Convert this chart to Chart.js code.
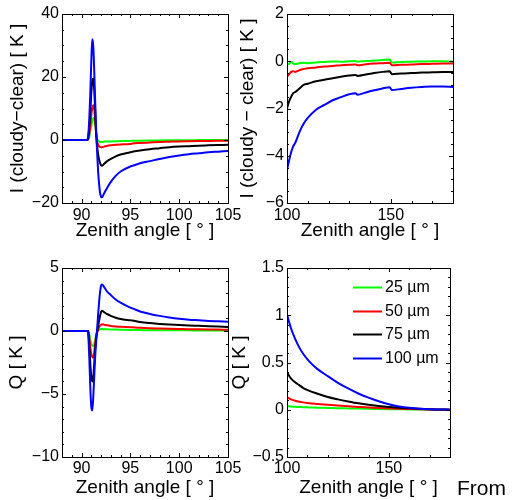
<!DOCTYPE html>
<html>
<head>
<meta charset="utf-8">
<script src="https://cdn.jsdelivr.net/npm/chart.js@4.4.0/dist/chart.umd.min.js"></script>
<style>
html, body { margin: 0; padding: 0; background: #fff; overflow: hidden; }
body { width: 517px; height: 500px; position: relative; font-family: "Liberation Sans", Arial, sans-serif; }
canvas { position: absolute; }
#from { position: absolute; left: 457px; top: 477px; font-size: 21px; line-height: 21px; white-space: nowrap; color: #000; }
</style>
</head>
<body>
<canvas id="tl" width="250" height="250" style="left:0;top:0;width:250px;height:250px"></canvas>
<canvas id="tr" width="292" height="250" style="left:225px;top:0;width:292px;height:250px"></canvas>
<canvas id="bl" width="250" height="250" style="left:0;top:250px;width:250px;height:250px"></canvas>
<canvas id="br" width="292" height="250" style="left:225px;top:250px;width:292px;height:250px"></canvas>
<div id="from">From</div>
<script>
// series names and colours
var sizeLabels = ['25 µm', '50 µm', '75 µm', '100 µm'];
var sizeColors = ['#00ff00', '#ff0000', '#000000', '#0000ff'];

// zenith angles near the limb (left column)
var nearX = [88, 90.6, 90.7, 90.8, 90.9, 91.0, 91.1, 91.2, 91.3, 91.4, 91.5, 91.6, 91.7, 91.8, 91.9, 92.0, 92.1, 92.3, 92.6, 93, 93.5, 94, 95, 95.2, 96, 97, 98, 99, 100, 101, 102, 103, 104, 105];

// I (cloudy - clear) near the limb
var i25Near = [0, 0, 0.3, 1.2, 2.8, 4.5, 6, 7, 7, 5, 2, 0.3, -0.3, -0.5, -0.6, -0.6, -0.6, -0.5, -0.5, -0.45, -0.4, -0.35, -0.3, -0.25, -0.2, -0.15, -0.12, -0.1, -0.08, -0.05, -0.03, 0, 0, 0];
var i50Near = [0, 0, 0.5, 2, 4.5, 8, 10, 11, 10, 6, 2, -0.5, -1.5, -2, -2.2, -2.3, -2.3, -2.1, -1.9, -1.7, -1.5, -1.4, -1.3, -1.1, -0.95, -0.8, -0.65, -0.55, -0.45, -0.4, -0.35, -0.3, -0.25, -0.2];
var i75Near = [0, 0, 1, 4, 9, 15, 18.5, 19.5, 16, 9, 2, -2, -4.5, -6.2, -7.3, -8, -8.2, -7.6, -6.8, -6.0, -5.2, -4.6, -3.9, -3.7, -3.3, -2.9, -2.6, -2.3, -2.1, -1.95, -1.8, -1.7, -1.6, -1.5];
var i100Near = [0, 0, 2, 7, 15, 25, 32, 30, 22, 12, 3, -4, -10, -14, -16.8, -18, -18.2, -17, -15.3, -13.3, -11.4, -10, -8.4, -8.2, -7.4, -6.7, -6.0, -5.4, -4.9, -4.5, -4.2, -3.9, -3.7, -3.5];

// Q near the limb
var q25Near = [0, 0, 0, -0.3, -0.7, -1.0, -1.15, -1.2, -1.1, -0.7, -0.3, -0.05, 0.05, 0.1, 0.13, 0.15, 0.15, 0.14, 0.13, 0.12, 0.11, 0.1, 0.08, 0.08, 0.07, 0.06, 0.06, 0.05, 0.05, 0.05, 0.04, 0.04, 0.04, 0.04];
var q50Near = [0, 0, 0, -0.6, -1.3, -1.8, -2.05, -2.1, -1.7, -1.0, -0.4, -0.1, 0.15, 0.3, 0.42, 0.5, 0.53, 0.5, 0.45, 0.4, 0.36, 0.33, 0.3, 0.29, 0.25, 0.22, 0.2, 0.18, 0.16, 0.14, 0.13, 0.12, 0.11, 0.1];
var q75Near = [0, 0, 0, -1.2, -2.6, -3.6, -4.0, -3.7, -2.6, -1.4, -0.6, -0.1, 0.4, 0.8, 1.2, 1.5, 1.6, 1.5, 1.35, 1.2, 1.05, 0.95, 0.85, 0.83, 0.72, 0.63, 0.56, 0.51, 0.48, 0.44, 0.41, 0.38, 0.35, 0.32];
var q100Near = [0, 0, -0.5, -2.2, -4.5, -6.0, -6.3, -5.3, -3.6, -2.0, -0.8, 0.2, 1.3, 2.3, 3.1, 3.6, 3.7, 3.5, 3.15, 2.85, 2.5, 2.25, 1.85, 1.8, 1.55, 1.35, 1.2, 1.08, 0.98, 0.9, 0.85, 0.8, 0.77, 0.74];

// I (cloudy - clear) looking down, 100-180 deg
var iFarX = [100, 101, 102, 103, 104, 106, 108, 110, 114, 118, 122, 126, 130, 133, 134, 138, 142, 146, 149.5, 150.5, 155, 160, 165, 170, 175, 180];
var i25Far = [-0.15, -0.1, -0.02, -0.1, -0.12, -0.08, -0.06, -0.08, -0.05, -0.03, -0.01, -0.02, 0, 0.01, -0.02, 0.01, 0.03, 0.05, 0.07, -0.05, -0.03, -0.02, -0.01, 0, 0, -0.02];
var i50Far = [-0.65, -0.55, -0.45, -0.42, -0.45, -0.38, -0.33, -0.3, -0.26, -0.22, -0.2, -0.17, -0.15, -0.14, -0.17, -0.13, -0.1, -0.08, -0.06, -0.17, -0.15, -0.14, -0.12, -0.11, -0.1, -0.1];
var i75Far = [-2.0, -1.7, -1.5, -1.35, -1.3, -1.15, -1.0, -0.95, -0.85, -0.78, -0.72, -0.66, -0.6, -0.58, -0.62, -0.56, -0.5, -0.45, -0.42, -0.55, -0.52, -0.5, -0.48, -0.47, -0.46, -0.46];
var i100Far = [-4.6, -4.2, -3.85, -3.6, -3.45, -3.0, -2.65, -2.4, -2.05, -1.85, -1.65, -1.52, -1.4, -1.35, -1.42, -1.32, -1.23, -1.15, -1.1, -1.22, -1.17, -1.12, -1.09, -1.07, -1.07, -1.09];

// Q looking down, 100-180 deg
var qFarX = [100, 101, 102, 104, 106, 108, 111, 115, 120, 125, 130, 135, 140, 145, 150, 155, 160, 165, 170, 175, 180];
var q25Far = [0.04, 0.036, 0.034, 0.031, 0.029, 0.027, 0.025, 0.022, 0.019, 0.016, 0.014, 0.012, 0.01, 0.008, 0.006, 0.005, 0.003, 0.002, 0.001, 0.001, 0];
var q50Far = [0.135, 0.12, 0.11, 0.095, 0.085, 0.078, 0.07, 0.062, 0.052, 0.044, 0.036, 0.03, 0.024, 0.019, 0.015, 0.011, 0.008, 0.005, 0.003, 0.001, 0];
var q75Far = [0.4, 0.36, 0.33, 0.29, 0.26, 0.23, 0.2, 0.17, 0.135, 0.11, 0.088, 0.068, 0.052, 0.04, 0.03, 0.021, 0.015, 0.01, 0.006, 0.003, 0];
var q100Far = [1.01, 0.93, 0.86, 0.75, 0.66, 0.59, 0.51, 0.43, 0.355, 0.285, 0.225, 0.172, 0.128, 0.09, 0.058, 0.035, 0.02, 0.011, 0.006, 0.003, 0];

// tick labels
var nearTicksX = [90, 95, 100, 105];
var farTicksX = [100, 150];
var iNearTicks = [-20, 0, 20, 40];
var iFarTicks = [-6, -4, -2, 0, 2];
var qNearTicks = [-10, -5, 0, 5];
var qFarTicks = [-0.5, 0, 0.5, 1, 1.5];

Chart.defaults.font.family = '"Liberation Sans", Arial, sans-serif';
Chart.defaults.color = '#000';

// minus sign like matlab
function fmt(v) { return String(v).replace('-', '\u2212'); }

// minor ticks between (and outside) the major ones
function minorTicks(major, n, min, max) {
  var out = [];
  if (major.length < 2) return out;
  var step = (major[1] - major[0]) / n;
  for (var v = major[0] - step; v > min + 1e-9; v -= step) out.push(v);
  for (var v2 = major[0] + step; v2 < max - 1e-9; v2 += step) out.push(v2);
  return out;
}

// box with inward ticks on all four sides
var boxPlugin = {
  id: 'box',
  afterDatasetsDraw: function(chart, args, opts) {
    var ctx = chart.ctx, a = chart.chartArea, sx = chart.scales.x, sy = chart.scales.y;
    var xt = sx.ticks.map(function(t) { return t.value; });
    var yt = sy.ticks.map(function(t) { return t.value; });
    ctx.save();
    ctx.strokeStyle = '#000';
    ctx.lineWidth = 1;
    ctx.beginPath();
    function xMark(v, len) {
      var p = Math.round(sx.getPixelForValue(v)) + 0.5;
      ctx.moveTo(p, a.bottom); ctx.lineTo(p, a.bottom - len);
      ctx.moveTo(p, a.top); ctx.lineTo(p, a.top + len);
    }
    function yMark(v, len) {
      var p = Math.round(sy.getPixelForValue(v)) + 0.5;
      ctx.moveTo(a.left, p); ctx.lineTo(a.left + len, p);
      ctx.moveTo(a.right, p); ctx.lineTo(a.right - len, p);
    }
    xt.forEach(function(v) { xMark(v, 4); });
    yt.forEach(function(v) { yMark(v, 4); });
    minorTicks(xt, opts.minorX, sx.min, sx.max).forEach(function(v) { xMark(v, 2); });
    minorTicks(yt, opts.minorY, sy.min, sy.max).forEach(function(v) { yMark(v, 2); });
    ctx.stroke();
    ctx.strokeRect(a.left + 0.5, a.top + 0.5, a.right - a.left, a.bottom - a.top);
    ctx.restore();
  }
};

// legend drawn inside the plot area
var keyPlugin = {
  id: 'sizeKey',
  afterDraw: function(chart, args, opts) {
    if (!opts.show) return;
    var ctx = chart.ctx, a = chart.chartArea;
    ctx.save();
    ctx.font = '16px "Liberation Sans", Arial, sans-serif';
    ctx.textBaseline = 'middle';
    chart.data.datasets.forEach(function(ds, i) {
      var y = Math.round(a.top + opts.top + i * opts.rowGap) + 0.5;
      var x0 = a.left + opts.left;
      ctx.strokeStyle = ds.borderColor;
      ctx.lineWidth = 2;
      ctx.beginPath();
      ctx.moveTo(x0, y);
      ctx.lineTo(x0 + opts.lineLen, y);
      ctx.stroke();
      ctx.fillStyle = '#000';
      ctx.fillText(ds.label, x0 + opts.lineLen + 3, y);
    });
    ctx.restore();
  }
};

function makeChart(id, xs, series, o) {
  var datasets = series.map(function(s, i) {
    return {
      label: sizeLabels[i],
      data: xs.map(function(x, j) { return { x: x, y: s[j] }; }),
      borderColor: sizeColors[i],
      backgroundColor: sizeColors[i],
      borderWidth: 2,
      pointRadius: 0,
      fill: false,
      cubicInterpolationMode: 'monotone',
      order: series.length - 1 - i
    };
  });
  return new Chart(document.getElementById(id), {
    type: 'line',
    data: { datasets: datasets },
    options: {
      responsive: false,
      animation: false,
      events: [],
      layout: { autoPadding: false, padding: o.pad },
      plugins: {
        legend: { display: false },
        tooltip: { enabled: false },
        box: { minorX: o.minorX, minorY: o.minorY },
        sizeKey: { show: !!o.key, top: 19, rowGap: 23.7, left: 66, lineLen: 29 }
      },
      scales: {
        x: {
          type: 'linear',
          min: o.xMin, max: o.xMax,
          grid: { display: false, drawTicks: false, tickLength: 0 },
          border: { display: false },
          afterBuildTicks: function(s) { s.ticks = o.xTicks.map(function(v) { return { value: v }; }); },
          afterFit: function(s) { s.height = o.xH; },
          ticks: { font: { size: 16 }, padding: o.xTickPad, maxRotation: 0, autoSkip: false, callback: fmt },
          title: { display: true, text: 'Zenith angle [ \u00b0 ]', font: { size: 19 }, padding: { top: 0, bottom: o.xTitlePad } }
        },
        y: {
          min: o.yMin, max: o.yMax,
          grid: { display: false, drawTicks: false, tickLength: 0 },
          border: { display: false },
          afterBuildTicks: function(s) { s.ticks = o.yTicks.map(function(v) { return { value: v }; }); },
          afterFit: function(s) { s.width = 62; },
          ticks: { font: { size: 16 }, padding: 3, autoSkip: false, callback: fmt },
          title: { display: true, text: o.yTitle, font: { size: 19 }, padding: { top: o.yTitlePad, bottom: 0 } }
        }
      }
    },
    plugins: [boxPlugin, keyPlugin]
  });
}

makeChart('tl', nearX, [i25Near, i50Near, i75Near, i100Near], {
  pad: { left: 0, top: 14, right: 22, bottom: 0 }, xH: 47, xTickPad: 3, xTitlePad: 8,
  xMin: 88, xMax: 105, xTicks: nearTicksX, minorX: 5,
  yMin: -20, yMax: 40, yTicks: iNearTicks, minorY: 4,
  yTitle: 'I (cloudy\u2212clear) [ K ]', yTitlePad: 6
});

makeChart('tr', iFarX, [i25Far, i50Far, i75Far, i100Far], {
  pad: { left: 0, top: 14, right: 64, bottom: 0 }, xH: 47, xTickPad: 3, xTitlePad: 8,
  xMin: 100, xMax: 180, xTicks: farTicksX, minorX: 5,
  yMin: -6, yMax: 2, yTicks: iFarTicks, minorY: 4,
  yTitle: 'I (cloudy \u2212 clear) [ K ]', yTitlePad: 11
});

makeChart('bl', nearX, [q25Near, q50Near, q75Near, q100Near], {
  pad: { left: 0, top: 18, right: 22, bottom: 0 }, xH: 43, xTickPad: 2, xTitlePad: 1,
  xMin: 88, xMax: 105, xTicks: nearTicksX, minorX: 5,
  yMin: -10, yMax: 5, yTicks: qNearTicks, minorY: 5,
  yTitle: 'Q [ K ]', yTitlePad: 5
});

makeChart('br', qFarX, [q25Far, q50Far, q75Far, q100Far], {
  pad: { left: 0, top: 18, right: 67, bottom: 0 }, xH: 43, xTickPad: 2, xTitlePad: 1,
  xMin: 100, xMax: 180, xTicks: farTicksX, minorX: 5,
  yMin: -0.5, yMax: 1.5, yTicks: qFarTicks, minorY: 5,
  yTitle: 'Q [ K ]', yTitlePad: 3, key: true
});
</script>
</body>
</html>
